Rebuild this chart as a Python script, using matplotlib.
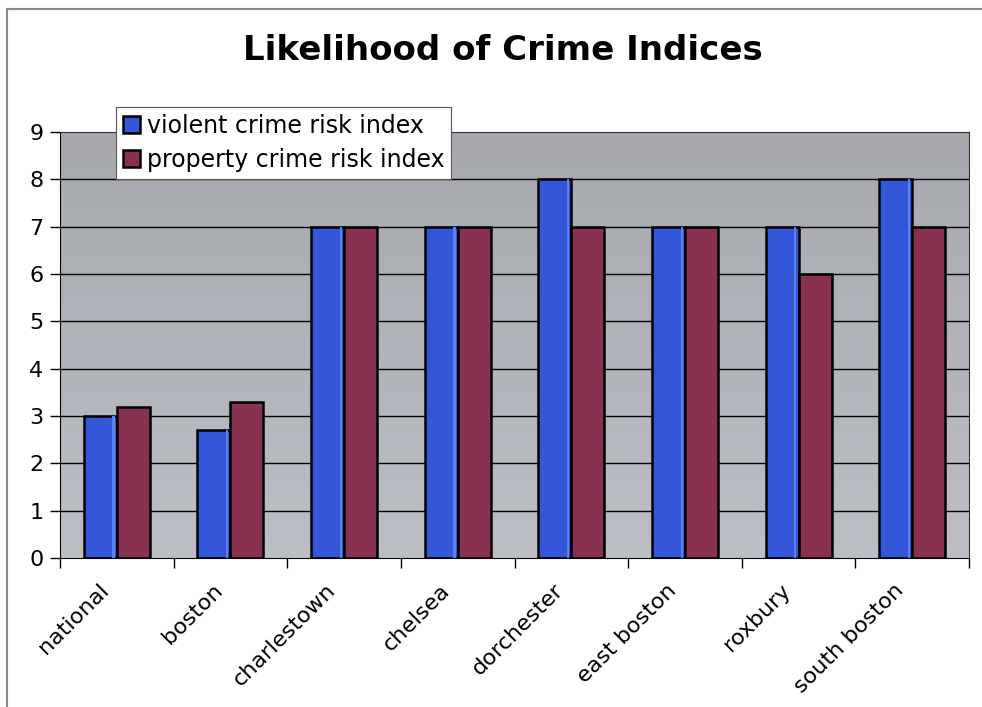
import numpy as np
import matplotlib
matplotlib.use("Agg")
import matplotlib.pyplot as plt
from matplotlib.lines import Line2D

areas = ["national", "boston", "charlestown", "chelsea", "dorchester",
         "east boston", "roxbury", "south boston"]
violent = [3.0, 2.7, 7, 7, 8, 7, 7, 8]
property_ = [3.2, 3.3, 7, 7, 7, 7, 6, 7]
series_names = ["violent crime risk index", "property crime risk index"]

blue = "#3457d9"
maroon = "#893150"

plt.rcParams['font.family'] = ['DejaVu Sans']
fig = plt.figure(figsize=(9.82, 7.07), dpi=100)
ax = fig.add_axes([0.0611, 0.2108, 0.9257, 0.6025])

n = len(areas)
x = np.arange(n)
w = 0.29

# grey plot-area fill, a bit darker at the top
grad = np.linspace(0, 1, 256).reshape(-1, 1)
ax.imshow(grad, extent=[-0.5, n - 0.5, 0, 9], aspect='auto',
          cmap=matplotlib.colors.LinearSegmentedColormap.from_list(
              "bg", ["#bcbfc6", "#a6a8ae"]),
          origin='lower', zorder=0)

for yv in range(1, 9):
    ax.axhline(yv, color='black', lw=1.0, zorder=1)

ax.bar(x - w / 2, violent, w, color=blue, edgecolor='black', lw=1.8,
       zorder=3, label=series_names[0])
ax.bar(x + w / 2, property_, w, color=maroon, edgecolor='black', lw=1.8,
       zorder=3, label=series_names[1])
# light rim on the right side of the blue bars
ax.bar(x - w / 2 + w * 0.40, violent, w * 0.07, color="#5c80ec",
       lw=0, zorder=4)

ax.set_xlim(-0.5, n - 0.5)
ax.set_ylim(0, 9)
ax.set_yticks(range(10))
ax.set_yticklabels([str(v) for v in range(10)], fontsize=16)
ax.set_xticks(np.arange(n + 1) - 0.5)
ax.set_xticklabels([])
ax.tick_params(axis='y', direction='out', length=7, width=1, pad=5)
ax.tick_params(axis='x', direction='out', length=7, width=1)
for i, name in enumerate(areas):
    ax.text(i - 0.1, -0.62, name, rotation=45, rotation_mode='anchor',
            ha='right', va='center', fontsize=16, transform=ax.transData)

for s in ['top', 'right']:
    ax.spines[s].set_color('#333333')
ax.spines['left'].set_color('black')
ax.spines['bottom'].set_color('black')

leg = ax.legend(loc='upper left', bbox_to_anchor=(0.0616, 1.059),
                borderaxespad=0, fontsize=17, frameon=True, fancybox=False,
                handlelength=0.7, handleheight=0.7, handletextpad=0.3,
                borderpad=0.3, labelspacing=0.42)
leg.get_frame().set_edgecolor('#555555')
leg.get_frame().set_linewidth(0.8)
leg.get_frame().set_alpha(1)

fig.text(0.512, 0.929, "Likelihood of Crime Indices", ha='center',
         va='center', fontsize=24.5, fontweight='bold')

# page border
fig.add_artist(Line2D([0.007, 1.0], [0.987, 0.987], color='#888888', lw=1.5))
fig.add_artist(Line2D([0.007, 0.007], [0.0, 0.987], color='#888888', lw=1.5))

fig.savefig("out.png", dpi=100)
